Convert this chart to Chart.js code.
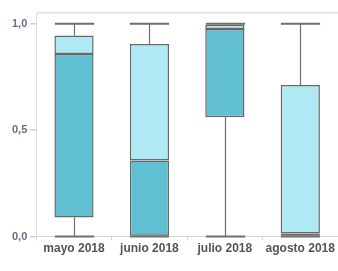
<!DOCTYPE html>
<html>
<head>
<meta charset="utf-8">
<script src="https://cdn.jsdelivr.net/npm/chart.js@4"></script>
<style>
  html, body { margin: 0; padding: 0; background: #fff; }
  #contenedor { width: 338px; height: 271px; }
</style>
</head>
<body>
<div id="contenedor"><canvas id="cajas"></canvas></div>
<script>
// Datos del diagrama de cajas
const meses = ["mayo 2018", "junio 2018", "julio 2018", "agosto 2018"];
const minimos = [0, 0, 0, 0];
const cuartil1 = [0.09, 0, 0.56, 0];
const medianas = [0.858, 0.357, 0.975, 0.015];
const cuartil3 = [0.944, 0.905, 0.995, 0.712];
const maximos = [1, 1, 1, 1];
const marcasY = [0, 0.5, 1];
const topeY = 1.05;

// Bigotes dibujados con las escalas del gráfico
const bigotes = {
  id: "bigotes",
  beforeDatasetsDraw(chart) {
    const ctx = chart.ctx;
    const x = chart.scales.x;
    const y = chart.scales.y;
    const meta = chart.getDatasetMeta(0);
    ctx.save();
    ctx.strokeStyle = "#6e6e6e";
    for (let i = 0; i < meses.length; i++) {
      const cx = Math.round(x.getPixelForValue(i)) + 0.5;
      const ancho = meta.data[i].width;
      ctx.lineWidth = 1.2;
      ctx.beginPath();
      ctx.moveTo(cx, y.getPixelForValue(maximos[i]));
      ctx.lineTo(cx, y.getPixelForValue(cuartil3[i]));
      ctx.moveTo(cx, y.getPixelForValue(cuartil1[i]));
      ctx.lineTo(cx, y.getPixelForValue(minimos[i]));
      ctx.stroke();
      ctx.lineWidth = 2;
      ctx.beginPath();
      [maximos[i], minimos[i]].forEach((v) => {
        const py = y.getPixelForValue(v);
        ctx.moveTo(cx - ancho / 2, py);
        ctx.lineTo(cx + ancho / 2, py);
      });
      ctx.stroke();
    }
    ctx.restore();
  },
};

const inferior = meses.map((m, i) => [cuartil1[i], medianas[i]]);
const superior = meses.map((m, i) => [medianas[i], cuartil3[i]]);

new Chart(document.getElementById("cajas"), {
  type: "bar",
  data: {
    labels: meses,
    datasets: [
      {
        data: inferior,
        backgroundColor: "#60bfd0",
        borderColor: "#676767",
        borderWidth: 1.5,
        borderSkipped: false,
        grouped: false,
        barPercentage: 0.52,
        categoryPercentage: 1,
      },
      {
        data: superior,
        backgroundColor: "#afe9f3",
        borderColor: "#676767",
        borderWidth: 1.5,
        borderSkipped: false,
        grouped: false,
        barPercentage: 0.52,
        categoryPercentage: 1,
      },
    ],
  },
  options: {
    responsive: true,
    maintainAspectRatio: false,
    animation: false,
    layout: { padding: { top: 13, right: 0, bottom: 14, left: 9 } },
    plugins: {
      legend: { display: false },
      tooltip: { enabled: false },
    },
    scales: {
      x: {
        grid: {
          offset: true,
          drawOnChartArea: false,
          color: "#d6d6d6",
          tickLength: 4,
        },
        border: { color: "#d6d6d6" },
        ticks: {
          color: "#555",
          padding: 1,
          font: { family: "Liberation Sans", size: 12, weight: "bold" },
        },
      },
      y: {
        min: 0,
        max: topeY,
        afterBuildTicks: (scale) => {
          scale.ticks = marcasY.concat([topeY]).map((v) => ({ value: v }));
        },
        grid: {
          color: (c) => (c.tick && c.tick.value === topeY ? "#e2e2e2" : "rgba(0,0,0,0)"),
          tickColor: (c) => (c.tick && c.tick.value === topeY ? "rgba(0,0,0,0)" : "#cfcfcf"),
          tickLength: 6,
          lineWidth: 1.5,
        },
        border: { color: "#dcdcdc" },
        ticks: {
          color: "#657080",
          padding: 3,
          font: { family: "Liberation Sans", size: 11, weight: "bold" },
          callback: (v) => (v === topeY ? "" : v.toFixed(1).replace(".", ",")),
        },
      },
    },
  },
  plugins: [bigotes],
});
</script>
</body>
</html>
